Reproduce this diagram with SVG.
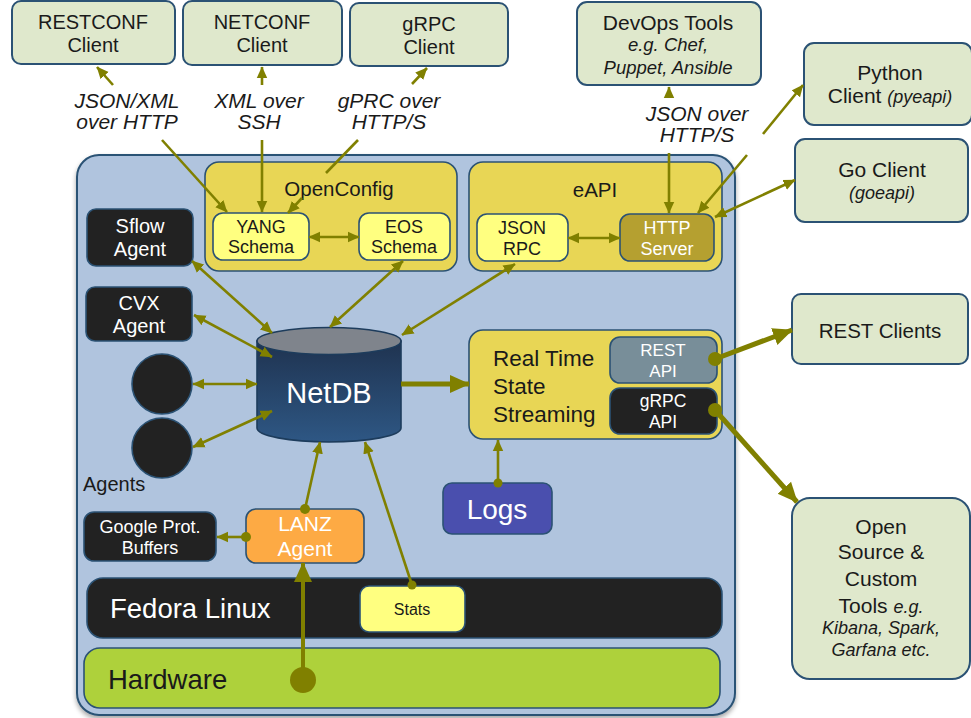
<svg xmlns="http://www.w3.org/2000/svg" width="971" height="718" viewBox="0 0 971 718">
<style>
text{font-family:"Liberation Sans",Arial,sans-serif;text-anchor:middle;fill:#1a1a1a}
.client{fill:#dfe8cc;stroke:#2b5274;stroke-width:2}
.yel{fill:#e8d655;stroke:#2b5274;stroke-width:1.6}
.lt{fill:#ffff80;stroke:#2b5274;stroke-width:1.6}
.blk{fill:#222222;stroke:#2b5274;stroke-width:1.6}
.w{fill:#ffffff}
.it{font-style:italic}
.ln{stroke:#808000;stroke-width:2.6;fill:none}
.thk{stroke:#808000;stroke-width:5;fill:none}
.dot{fill:#808000}
</style>
<defs>
<marker id="a" viewBox="0 0 10 10" refX="9.5" refY="5" markerWidth="12" markerHeight="12" markerUnits="userSpaceOnUse" orient="auto-start-reverse"><path d="M0,0.5 L10,5 L0,9.5 z" fill="#808000"/></marker>
<marker id="b" viewBox="0 0 10 10" refX="9.5" refY="5" markerWidth="20" markerHeight="20" markerUnits="userSpaceOnUse" orient="auto-start-reverse"><path d="M0,0.5 L10,5 L0,9.5 z" fill="#808000"/></marker>
<linearGradient id="db" x1="0" y1="0" x2="0" y2="1"><stop offset="0" stop-color="#1f3350"/><stop offset="1" stop-color="#2e5784"/></linearGradient>
<filter id="sh" x="-5%" y="-5%" width="110%" height="110%"><feGaussianBlur in="SourceAlpha" stdDeviation="2.5"/><feOffset dx="0" dy="3"/><feComponentTransfer><feFuncA type="linear" slope="0.35"/></feComponentTransfer><feMerge><feMergeNode/><feMergeNode in="SourceGraphic"/></feMerge></filter>
</defs>

<g id="panel">
<rect x="77" y="155" width="658" height="560" rx="22" fill="#b0c4de" stroke="#2b5274" stroke-width="2" filter="url(#sh)"/>
</g>

<g id="restconf"><rect class="client" x="12" y="1" width="163" height="63" rx="9"/><text x="93" y="29" font-size="20">RESTCONF</text><text x="93" y="52" font-size="20">Client</text></g>
<g id="netconf"><rect class="client" x="183" y="1" width="159" height="64" rx="9"/><text x="262" y="29" font-size="20">NETCONF</text><text x="262" y="52" font-size="20">Client</text></g>
<g id="grpc"><rect class="client" x="350" y="3" width="158" height="63" rx="9"/><text x="429" y="31" font-size="20">gRPC</text><text x="429" y="54" font-size="20">Client</text></g>
<g id="devops"><rect class="client" x="577" y="2" width="184" height="83" rx="10"/><text x="668" y="30" font-size="21">DevOps Tools</text><text class="it" x="668" y="51" font-size="18.5">e.g. Chef,</text><text class="it" x="668" y="74" font-size="18.5">Puppet, Ansible</text></g>
<g id="python"><rect class="client" x="804" y="43" width="168" height="82" rx="10"/><text x="890" y="80" font-size="21">Python</text><text x="890" y="103" font-size="21">Client <tspan class="it" font-size="18">(pyeapi)</tspan></text></g>
<g id="go"><rect class="client" x="795" y="139" width="173" height="83" rx="10"/><text x="882" y="177" font-size="21">Go Client</text><text class="it" x="882" y="199" font-size="18">(goeapi)</text></g>
<g id="restclients"><rect class="client" x="792" y="294" width="176" height="70" rx="9"/><text x="880" y="338" font-size="20.5">REST Clients</text></g>
<g id="opensource"><rect class="client" x="792" y="498" width="178" height="181" rx="18"/><text x="881" y="534" font-size="21">Open</text><text x="881" y="559" font-size="21">Source &amp;</text><text x="881" y="586" font-size="21">Custom</text><text x="881" y="613" font-size="21">Tools <tspan class="it" font-size="18">e.g.</tspan></text><text class="it" x="881" y="634" font-size="18">Kibana, Spark,</text><text class="it" x="881" y="656" font-size="18">Garfana etc.</text></g>

<g id="labels">
<text class="it" x="127" y="108" font-size="21">JSON/XML</text><text class="it" x="127" y="129" font-size="21">over HTTP</text>
<text class="it" x="259" y="108" font-size="21">XML over</text><text class="it" x="259" y="129" font-size="21">SSH</text>
<text class="it" x="389" y="108" font-size="21">gPRC over</text><text class="it" x="389" y="129" font-size="21">HTTP/S</text>
<text class="it" x="697" y="121" font-size="21">JSON over</text><text class="it" x="697" y="142" font-size="21">HTTP/S</text>
</g>

<g id="openconfig"><rect class="yel" x="205" y="162" width="252" height="109" rx="14"/><text x="339" y="196" font-size="20.5">OpenConfig</text></g>
<g id="yang"><rect class="lt" x="213" y="213" width="96" height="47" rx="10"/><text x="261" y="233" font-size="18">YANG</text><text x="261" y="253" font-size="18">Schema</text></g>
<g id="eos"><rect class="lt" x="359" y="213" width="91" height="47" rx="10"/><text x="404" y="233" font-size="18">EOS</text><text x="404" y="253" font-size="18">Schema</text></g>

<g id="eapi"><rect class="yel" x="469" y="162" width="253" height="109" rx="14"/><text x="595" y="197" font-size="20.5">eAPI</text></g>
<g id="jsonrpc"><rect class="lt" x="477" y="214" width="91" height="47" rx="10"/><text x="522" y="234" font-size="18">JSON</text><text x="522" y="255" font-size="18">RPC</text></g>
<g id="httpserver"><rect x="620" y="214" width="94" height="47" rx="10" fill="#b5a030" stroke="#2b5274" stroke-width="1.6"/><text class="w" x="667" y="234" font-size="18">HTTP</text><text class="w" x="667" y="255" font-size="18">Server</text></g>

<g id="sflow"><rect class="blk" x="87" y="209" width="106" height="57" rx="9"/><text class="w" x="140" y="233" font-size="20">Sflow</text><text class="w" x="140" y="256" font-size="20">Agent</text></g>
<g id="cvx"><rect class="blk" x="86" y="287" width="106" height="54" rx="9"/><text class="w" x="139" y="310" font-size="20">CVX</text><text class="w" x="139" y="333" font-size="20">Agent</text></g>
<g id="agent1"><circle cx="162" cy="384" r="30" fill="#222222" stroke="#2b5274" stroke-width="1.6"/></g>
<g id="agent2"><circle cx="162" cy="448" r="30" fill="#222222" stroke="#2b5274" stroke-width="1.6"/></g>
<g id="agentslabel"><text x="83" y="491" font-size="20" style="text-anchor:start">Agents</text></g>

<g id="netdb">
<path d="M257,341 L257,428 A72,14 0 0 0 401,428 L401,341 Z" fill="url(#db)" stroke="#1d3c5c" stroke-width="1.6"/>
<ellipse cx="329" cy="341" rx="72" ry="13.5" fill="#7f848c" stroke="#1d3c5c" stroke-width="1.6"/>
<text class="w" x="329" y="403" font-size="29">NetDB</text>
</g>

<g id="realtime"><rect class="yel" x="469" y="330" width="253" height="109" rx="14"/><text x="493" y="366" font-size="22.5" style="text-anchor:start">Real Time</text><text x="493" y="394" font-size="22.5" style="text-anchor:start">State</text><text x="493" y="422" font-size="22.5" style="text-anchor:start">Streaming</text></g>
<g id="restapi"><rect x="610" y="337" width="107" height="46" rx="10" fill="#788e99" stroke="#2b5274" stroke-width="1.6"/><text class="w" x="663" y="356" font-size="17">REST</text><text class="w" x="663" y="377" font-size="17">API</text></g>
<g id="grpcapi"><rect class="blk" x="610" y="388" width="107" height="46" rx="10"/><text class="w" x="663" y="407" font-size="17.5">gRPC</text><text class="w" x="663" y="428" font-size="17.5">API</text></g>

<g id="logs"><rect x="443" y="483" width="109" height="51" rx="9" fill="#4a4fae" stroke="#2b5274" stroke-width="1.6"/><text class="w" x="497" y="519" font-size="28">Logs</text></g>
<g id="lanz"><rect x="246" y="509" width="118" height="54" rx="10" fill="#fdaa44" stroke="#2b5274" stroke-width="1.6"/><text class="w" x="305" y="531" font-size="21">LANZ</text><text class="w" x="305" y="556" font-size="21">Agent</text></g>
<g id="gpb"><rect class="blk" x="84" y="512" width="132" height="49" rx="10"/><text class="w" x="150" y="533" font-size="18">Google Prot.</text><text class="w" x="150" y="554" font-size="18">Buffers</text></g>

<g id="fedora"><rect x="87" y="578" width="635" height="60" rx="16" fill="#222222" stroke="#2b5274" stroke-width="1.6"/><text class="w" x="110" y="618" font-size="27.5" style="text-anchor:start">Fedora Linux</text></g>
<g id="stats"><rect class="lt" x="360" y="586" width="105" height="46" rx="9"/><text x="412" y="615" font-size="16">Stats</text></g>
<g id="hardware"><rect x="84" y="648" width="636" height="60" rx="16" fill="#aed13b" stroke="#2b5274" stroke-width="1.6"/><text x="108" y="689" font-size="27.5" style="text-anchor:start">Hardware</text></g>

<g id="connectors">
<path class="ln" d="M162,140 L227,212" marker-end="url(#a)"/>
<path class="ln" d="M113,85 L97,67" marker-end="url(#a)"/>
<path class="ln" d="M262,85 L262,67" marker-end="url(#a)"/>
<path class="ln" d="M262,140 L262,212" marker-end="url(#a)"/>
<path class="ln" d="M412,84 L427,68" marker-end="url(#a)"/>
<path class="ln" d="M358,140 L326,173"/>
<path class="ln" d="M302,198 L288,213" marker-end="url(#a)"/>
<path class="ln" d="M669,97 L669,87" marker-end="url(#a)"/>
<path class="ln" d="M669,153 L669,213" marker-end="url(#a)"/>
<path class="ln" d="M747,155 L698,213" marker-end="url(#a)"/>
<path class="ln" d="M763,134 L803,85" marker-end="url(#a)"/>
<path class="ln" d="M715,217 L795,180" marker-start="url(#a)" marker-end="url(#a)"/>
<path class="ln" d="M309,237 L359,237" marker-start="url(#a)" marker-end="url(#a)"/>
<path class="ln" d="M568,238 L620,238" marker-start="url(#a)" marker-end="url(#a)"/>
<path class="ln" d="M192,261 L272,333" marker-start="url(#a)" marker-end="url(#a)"/>
<path class="ln" d="M194,315 L272,357" marker-start="url(#a)" marker-end="url(#a)"/>
<path class="ln" d="M193,384 L257,384" marker-start="url(#a)" marker-end="url(#a)"/>
<path class="ln" d="M193,447 L272,411" marker-start="url(#a)" marker-end="url(#a)"/>
<path class="ln" d="M403,261 L330,327" marker-start="url(#a)" marker-end="url(#a)"/>
<path class="ln" d="M515,264 L402,335" marker-start="url(#a)" marker-end="url(#a)"/>
<path class="ln" d="M305,509 L320,442" marker-end="url(#a)"/>
<circle class="dot" cx="305" cy="509" r="5"/>
<path class="ln" d="M412,585 L365,442" marker-end="url(#a)"/>
<circle class="dot" cx="412" cy="585" r="4.5"/>
<path class="ln" d="M498,483 L498,440" marker-end="url(#a)"/>
<circle class="dot" cx="498" cy="483" r="4.5"/>
<path class="ln" d="M246,537 L217,537" marker-end="url(#a)"/>
<circle class="dot" cx="246" cy="537" r="5"/>
<path class="thk" d="M401,384 L469,384" marker-end="url(#b)"/>
<path class="thk" d="M715,359 L792,330" marker-end="url(#b)"/>
<circle class="dot" cx="715" cy="359" r="7"/>
<path class="thk" d="M715,410 L797,502" marker-end="url(#b)"/>
<circle class="dot" cx="715" cy="410" r="7"/>
<path class="ln" style="stroke-width:4" d="M303,680 L303,563" marker-end="url(#b)"/>
<ellipse class="dot" cx="303" cy="680" rx="13" ry="13"/>
</g>
</svg>
